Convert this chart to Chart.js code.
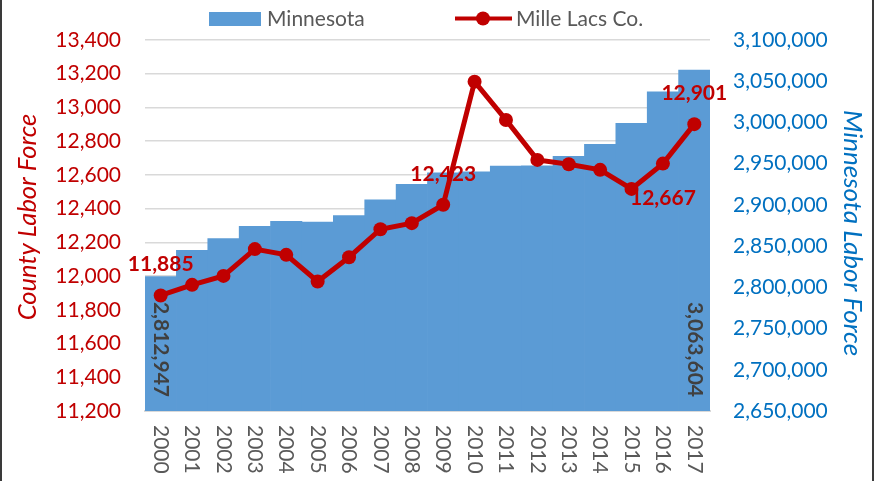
<!DOCTYPE html>
<html>
<head>
<meta charset="utf-8">
<script src="https://cdn.jsdelivr.net/npm/chart.js@4.4.1/dist/chart.umd.min.js"></script>
<style>
html,body{margin:0;padding:0;background:#fff;overflow:hidden;}
canvas{display:block;}
</style>
</head>
<body>
<canvas id="c" width="876" height="481"></canvas>
<script>
const years = ['2000','2001','2002','2003','2004','2005','2006','2007','2008','2009','2010','2011','2012','2013','2014','2015','2016','2017'];
const minnesota = [2812947, 2845000, 2859000, 2874000, 2880000, 2879000, 2887000, 2906000, 2925000, 2939000, 2940000, 2947000, 2947500, 2959000, 2973500, 2999000, 3037000, 3063604];
const milleLacs = [11885, 11948, 12001, 12160, 12126, 11968, 12112, 12278, 12314, 12423, 13153, 12926, 12689, 12663, 12630, 12517, 12667, 12901];
const leftTicks = {min: 11200, max: 13400, step: 200};
const rightTicks = {min: 2650000, max: 3100000, step: 50000};
// which points carry a value label, and where
const lineLabels = [{i: 0, pos: 'above'}, {i: 9, pos: 'above'}, {i: 16, pos: 'below'}, {i: 17, pos: 'above'}];
const barLabels = [0, 17];

const RED = '#C00000', BLUE = '#0070C0', BAR = '#5B9BD5', GRAY = '#595959', DARK = '#404040';
const FONT = 'Lato, "Open Sans", sans-serif';
const fmt = v => v.toLocaleString('en-US');

const custom = {
  id: 'custom',
  afterDatasetsDraw(chart) {
    const ctx = chart.ctx;
    const area = chart.chartArea;
    // bar labels, rotated clockwise, inside base
    const barMeta = chart.getDatasetMeta(1);
    ctx.save();
    ctx.font = 'bold 21px ' + FONT;
    ctx.fillStyle = DARK;
    barLabels.forEach(i => {
      const el = barMeta.data[i];
      ctx.save();
      ctx.translate(el.x, area.bottom - 14);
      ctx.rotate(Math.PI / 2);
      ctx.textAlign = 'right';
      ctx.textBaseline = 'middle';
      ctx.fillText(fmt(minnesota[i]), 0, 0);
      ctx.restore();
    });
    // line labels
    const lineMeta = chart.getDatasetMeta(0);
    ctx.fillStyle = RED;
    ctx.textAlign = 'center';
    ctx.textBaseline = 'middle';
    lineLabels.forEach(l => {
      const el = lineMeta.data[l.i];
      const dy = l.pos === 'above' ? -31 : 35;
      ctx.fillText(fmt(milleLacs[l.i]), el.x, el.y + dy);
    });
    ctx.restore();
  },
  afterDraw(chart) {
    const ctx = chart.ctx;
    const area = chart.chartArea;
    const xs = chart.scales.x;
    ctx.save();
    // x labels rotated clockwise
    ctx.font = '21px ' + FONT;
    ctx.fillStyle = GRAY;
    years.forEach((y, i) => {
      ctx.save();
      ctx.translate(xs.getPixelForValue(i), area.bottom + 14);
      ctx.rotate(Math.PI / 2);
      ctx.textAlign = 'left';
      ctx.textBaseline = 'middle';
      ctx.fillText(y, 0, 0);
      ctx.restore();
    });
    // axis titles
    ctx.font = 'italic 25.5px ' + FONT;
    ctx.fillStyle = RED;
    ctx.save();
    ctx.translate(28, 217);
    ctx.rotate(-Math.PI / 2);
    ctx.textAlign = 'center';
    ctx.textBaseline = 'middle';
    ctx.fillText('County Labor Force', 0, 0);
    ctx.restore();
    ctx.font = 'italic 26px ' + FONT;
    ctx.fillStyle = BLUE;
    ctx.save();
    ctx.translate(852, 233);
    ctx.rotate(Math.PI / 2);
    ctx.textAlign = 'center';
    ctx.textBaseline = 'middle';
    ctx.fillText('Minnesota Labor Force', 0, 0);
    ctx.restore();
    // legend
    ctx.fillStyle = BAR;
    ctx.fillRect(209, 12, 52, 14);
    ctx.font = '21px ' + FONT;
    ctx.fillStyle = GRAY;
    ctx.textAlign = 'left';
    ctx.textBaseline = 'alphabetic';
    ctx.fillText('Minnesota', 267, 26);
    ctx.strokeStyle = RED;
    ctx.lineWidth = 4;
    ctx.beginPath();
    ctx.moveTo(455, 18.5);
    ctx.lineTo(512, 18.5);
    ctx.stroke();
    ctx.fillStyle = RED;
    ctx.beginPath();
    ctx.arc(483, 18.5, 7, 0, Math.PI * 2);
    ctx.fill();
    ctx.fillStyle = GRAY;
    ctx.fillText('Mille Lacs Co.', 516, 26);
    // frame
    ctx.fillStyle = '#3a3a3a';
    ctx.fillRect(0, 0, 2, 481);
    ctx.fillRect(872, 0, 2, 481);
    ctx.restore();
  }
};

function draw() {
  new Chart(document.getElementById('c'), {
    data: {
      labels: years,
      datasets: [
        {
          type: 'line', label: 'Mille Lacs Co.', data: milleLacs, yAxisID: 'y',
          borderColor: RED, backgroundColor: RED, borderWidth: 5, tension: 0,
          pointRadius: 7, pointBackgroundColor: RED, pointBorderWidth: 0, order: 0
        },
        {
          type: 'bar', label: 'Minnesota', data: minnesota, yAxisID: 'y1',
          backgroundColor: BAR, borderWidth: 0, categoryPercentage: 1, barPercentage: 1, order: 1
        }
      ]
    },
    options: {
      responsive: false,
      animation: false,
      layout: {padding: {top: 40, left: 0, right: 0, bottom: 0}},
      plugins: {legend: {display: false}, tooltip: {enabled: false}},
      scales: {
        x: {
          offset: true,
          grid: {display: false, drawTicks: false},
          border: {display: true, color: '#D9D9D9', width: 2},
          ticks: {display: false},
          afterFit(s) { s.height = 70; }
        },
        y: {
          position: 'left', min: leftTicks.min, max: leftTicks.max,
          ticks: {stepSize: leftTicks.step, color: RED, font: {family: FONT, size: 21}, padding: 24},
          grid: {color: '#D9D9D9', lineWidth: 1.5, drawTicks: false},
          border: {display: false},
          afterFit(s) { s.width = 145; }
        },
        y1: {
          position: 'right', min: rightTicks.min, max: rightTicks.max,
          ticks: {stepSize: rightTicks.step, color: BLUE, font: {family: FONT, size: 21}, padding: 23},
          grid: {display: false, drawTicks: false},
          border: {display: false},
          afterFit(s) { s.width = 166; }
        }
      }
    },
    plugins: [custom]
  });
}
Promise.all([
  document.fonts.load('21px Lato'),
  document.fonts.load('bold 21px Lato'),
  document.fonts.load('italic 26px Lato')
]).then(draw, draw);
</script>
</body>
</html>
